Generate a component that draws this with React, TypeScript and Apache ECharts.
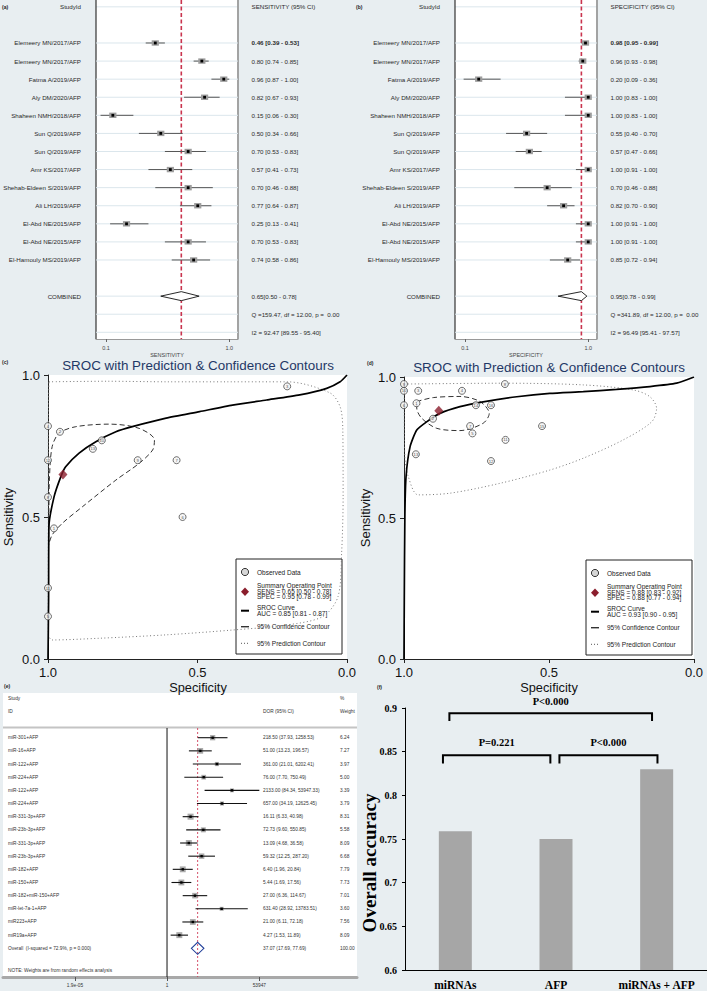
import React, { useEffect, useRef } from 'react';
import * as echarts from 'echarts';

const FONT = '"Liberation Sans", Arial, Helvetica, sans-serif';
const SERIF = '"Liberation Serif", "Times New Roman", serif';
const BG = '#e8eef1';

// ---------- (a) / (b) forest plots ----------
const studyIds = [
  'Elemeery MN/2017/AFP', 'Elemeery MN/2017/AFP', 'Fatma A/2019/AFP', 'Aly DM/2020/AFP',
  'Shaheen NMH/2018/AFP', 'Sun Q/2019/AFP', 'Sun Q/2019/AFP', 'Amr KS/2017/AFP',
  'Shehab-Eldeen S/2019/AFP', 'Ali LH/2019/AFP', 'El-Abd NE/2015/AFP', 'El-Abd NE/2015/AFP',
  'El-Hamouly MS/2019/AFP',
];
const sensEst = [0.46, 0.80, 0.96, 0.82, 0.15, 0.50, 0.70, 0.57, 0.70, 0.77, 0.25, 0.70, 0.74];
const sensLo = [0.39, 0.74, 0.87, 0.67, 0.06, 0.34, 0.53, 0.41, 0.46, 0.64, 0.13, 0.53, 0.58];
const sensHi = [0.53, 0.85, 1.00, 0.93, 0.30, 0.66, 0.83, 0.73, 0.88, 0.87, 0.41, 0.83, 0.86];
const specEst = [0.98, 0.96, 0.20, 1.00, 1.00, 0.55, 0.57, 1.00, 0.70, 0.82, 1.00, 1.00, 0.85];
const specLo = [0.95, 0.93, 0.09, 0.83, 0.83, 0.40, 0.47, 0.91, 0.46, 0.70, 0.91, 0.91, 0.72];
const specHi = [0.99, 0.98, 0.36, 1.00, 1.00, 0.70, 0.66, 1.00, 0.88, 0.90, 1.00, 1.00, 0.94];
const sensPooled = [0.65, 0.50, 0.78];
const specPooled = [0.95, 0.78, 0.99];
const sensStats = ['Q =159.47, df = 12.00, p =  0.00', 'I2 = 92.47 [89.55 - 95.40]'];
const specStats = ['Q =341.89, df = 12.00, p =  0.00', 'I2 = 96.49 [95.41 - 97.57]'];
const forestTicks = [0.1, 1.0];

// ---------- (c) SROC, AFP ----------
const cObsLabels = [1, 2, 3, 4, 5, 6, 7, 8, 9, 10, 11, 12, 13];
const cSummary = [0.95, 0.65];
const cCurve = [[1, 0], [0.998, 0.208], [0.997, 0.465], [0.98, 0.57], [0.957, 0.642], [0.941, 0.677], [0.896, 0.725], [0.84, 0.765], [0.773, 0.8], [0.718, 0.818], [0.605, 0.848], [0.493, 0.871], [0.383, 0.894], [0.269, 0.912], [0.158, 0.93], [0.068, 0.953], [0.023, 0.976], [0, 1]];
const cConf = [[0.998, 0.401], [0.997, 0.525], [0.995, 0.642], [0.986, 0.748], [0.963, 0.795], [0.907, 0.818], [0.795, 0.827], [0.695, 0.812], [0.644, 0.771], [0.65, 0.736], [0.695, 0.689], [0.773, 0.63], [0.885, 0.536], [0.952, 0.478], [0.986, 0.437], [0.998, 0.401]];
const cPred = [[0.997, 0.976], [0.8, 0.978], [0.6, 0.976], [0.4, 0.976], [0.2, 0.976], [0.057, 0.937], [0.023, 0.888], [0.014, 0.806], [0.013, 0.57], [0.018, 0.373], [0.03, 0.22], [0.08, 0.15], [0.2, 0.12], [0.383, 0.102], [0.605, 0.085], [0.829, 0.073], [0.986, 0.067], [0.999, 0.09], [0.999, 0.4], [0.999, 0.8], [0.997, 0.976]];
const cLegend = ['SENS = 0.65 [0.50 - 0.78]', 'SPEC = 0.95 [0.78 - 0.99]', 'AUC = 0.85 [0.81 - 0.87]'];

// ---------- (d) SROC, miRNAs + AFP ----------
const dObsLabels = [1, 2, 3, 4, 5, 6, 7, 8, 9, 10, 11, 12, 13, 14, 15, 16];
const dObsSpec = [0.957, 0.90, 0.951, 0.80, 0.764, 1.0, 0.772, 0.652, 1.0, 1.0, 0.65, 0.70, 0.959, 0.752, 0.524, 0.70];
const dObsSens = [0.907, 0.852, 0.951, 0.951, 0.80, 0.90, 0.826, 0.975, 0.975, 0.951, 0.777, 0.702, 0.726, 0.90, 0.826, 0.90];
const dSummary = [0.88, 0.88];
const dCurve = [[1, 0], [0.999, 0.209], [0.997, 0.505], [0.993, 0.646], [0.979, 0.753], [0.956, 0.812], [0.922, 0.841], [0.876, 0.871], [0.807, 0.895], [0.727, 0.912], [0.611, 0.93], [0.497, 0.942], [0.382, 0.948], [0.267, 0.956], [0.152, 0.966], [0.06, 0.978], [0, 1]];
const dConf = [[0.956, 0.913], [0.899, 0.927], [0.807, 0.931], [0.738, 0.913], [0.706, 0.871], [0.727, 0.836], [0.807, 0.81], [0.887, 0.818], [0.939, 0.854], [0.956, 0.89], [0.956, 0.913]];
const dPred = [[0.999, 0.975], [0.652, 0.978], [0.382, 0.972], [0.209, 0.954], [0.152, 0.93], [0.129, 0.889], [0.146, 0.841], [0.244, 0.777], [0.382, 0.712], [0.497, 0.67], [0.669, 0.623], [0.841, 0.588], [0.951, 0.582], [0.985, 0.646], [0.997, 0.717], [0.999, 0.871], [0.999, 0.975]];
const dLegend = ['SENS = 0.88 [0.83 - 0.92]', 'SPEC = 0.88 [0.77 - 0.94]', 'AUC = 0.93 [0.90 - 0.95]'];

// ---------- (e) DOR forest ----------
const dorNames = ['miR-301+AFP', 'miR-16+AFP', 'miR-122+AFP', 'miR-224+AFP', 'miR-122+AFP', 'miR-224+AFP', 'miR-331-3p+AFP', 'miR-23b-3p+AFP', 'miR-331-3p+AFP', 'miR-23b-3p+AFP', 'miR-182+AFP', 'miR-150+AFP', 'miR-182+miR-150+AFP', 'miR-let-7a-1+AFP', 'miR223+AFP', 'miR19a+AFP'];
const dorEst = [218.50, 51.00, 361.00, 76.00, 2133.00, 657.00, 16.11, 72.73, 13.09, 59.32, 6.40, 5.44, 27.00, 631.40, 21.00, 4.27];
const dorLo = [37.93, 13.23, 21.01, 7.70, 84.34, 34.19, 6.33, 9.60, 4.68, 12.25, 1.96, 1.69, 6.36, 28.92, 6.11, 1.53];
const dorHi = [1258.53, 196.57, 6202.41, 750.49, 53947.33, 12625.45, 40.98, 550.85, 36.58, 287.20, 20.84, 17.56, 114.67, 13783.51, 72.18, 11.89];
const dorWeight = [6.24, 7.27, 3.97, 5.00, 3.39, 3.79, 8.31, 5.58, 8.09, 6.68, 7.79, 7.73, 7.01, 3.60, 7.56, 8.09];
const dorOverall = [37.07, 17.69, 77.69];
const dorOverallLabel = 'Overall  (I-squared = 72.9%, p = 0.000)';
const dorTicks = [1.9e-5, 1, 53947];
const dorTickLabels = ['1.9e-05', '1', '53947'];

// ---------- (f) accuracy bars ----------
const accCategories = ['miRNAs', 'AFP', 'miRNAs + AFP'];
const accValues = [0.759, 0.75, 0.83];
const bracketX1 = [-0.059, -0.123, 1.034];
const bracketX2 = [1.954, 0.944, 2.008];
const bracketTop = [0.894, 0.846, 0.846];
const bracketBottom = [0.885, 0.8365, 0.8365];
const bracketLabelY = [0.907, 0.8605, 0.8605];
const bracketLabels = ['P<0.000', 'P=0.221', 'P<0.000'];

const f2 = (v: number) => v.toFixed(2);

function txt(x: number, y: number, text: string, align: string, size = 6.2, bold = false, fill = '#2a2a2a', family = FONT): any {
  return {
    type: 'text', x, y,
    style: { text, align, verticalAlign: 'middle', fontSize: size, fontFamily: family, fontWeight: bold ? 'bold' : 'normal', fill },
  };
}

function abSeries(ax: number, est: number[], lo: number[], hi: number[], pooled: number[], stats: string[], headerRight: string): any[] {
  const rows = [-2, ...est.map((_, i) => i), 14, 15, 16];
  const nameOff = 15;
  const ciOff = 13.5;
  const annotation = {
    type: 'custom', xAxisIndex: ax, yAxisIndex: ax, z: 1, silent: true,
    data: rows.map((r) => [0.5, r]),
    renderItem: (params: any, api: any) => {
      const cs = params.coordSys;
      const r = api.value(1);
      const y = api.coord([0.5, r])[1];
      const ch: any[] = [{ type: 'line', shape: { x1: cs.x, y1: y, x2: cs.x + cs.width, y2: y }, style: { stroke: '#dbe6ec', lineWidth: 1 } }];
      if (r === -2) {
        ch.push(txt(cs.x - nameOff, y, 'StudyId', 'right'));
        ch.push(txt(cs.x + cs.width + ciOff, y, headerRight, 'left'));
        ch.push({ type: 'line', shape: { x1: cs.x, y1: cs.y, x2: cs.x, y2: cs.y + cs.height }, style: { stroke: '#333', lineWidth: 1.2 } });
        ch.push({ type: 'line', shape: { x1: cs.x + cs.width, y1: cs.y, x2: cs.x + cs.width, y2: cs.y + cs.height }, style: { stroke: '#9a9a9a', lineWidth: 1.8 } });
      }
      if (r === 15) ch.push(txt(cs.x + cs.width + ciOff, y, stats[0], 'left'));
      if (r === 16) ch.push(txt(cs.x + cs.width + ciOff, y, stats[1], 'left'));
      return { type: 'group', children: ch };
    },
  };
  const pooledSeries = {
    type: 'custom', xAxisIndex: ax, yAxisIndex: ax, z: 3, silent: true,
    data: [[pooled[0], pooled[1], pooled[2], 14]],
    renderItem: (params: any, api: any) => {
      const cs = params.coordSys;
      const row = api.value(3);
      const pe = api.coord([api.value(0), row]);
      const pl = api.coord([api.value(1), row]);
      const ph = api.coord([api.value(2), row]);
      const y = pe[1];
      return {
        type: 'group', children: [
          { type: 'line', shape: { x1: pe[0], y1: cs.y, x2: pe[0], y2: cs.y + cs.height }, style: { stroke: '#c9344e', lineWidth: 1.6, lineDash: [4, 2.5] } },
          { type: 'polygon', shape: { points: [[pl[0], y], [pe[0], y - 4.5], [ph[0], y], [pe[0], y + 4.5]] }, style: { fill: '#fff', stroke: '#111', lineWidth: 0.9 } },
          txt(cs.x - nameOff, y, 'COMBINED', 'right'),
          txt(cs.x + cs.width + ciOff, y, `${f2(pooled[0])}[${f2(pooled[1])} - ${f2(pooled[2])}]`, 'left'),
        ],
      };
    },
  };
  const studies = {
    type: 'custom', xAxisIndex: ax, yAxisIndex: ax, z: 4, silent: true,
    data: est.map((v, i) => [v, lo[i], hi[i], i]),
    renderItem: (params: any, api: any) => {
      const cs = params.coordSys;
      const i = params.dataIndex;
      const row = api.value(3);
      const pe = api.coord([api.value(0), row]);
      const pl = api.coord([api.value(1), row]);
      const ph = api.coord([api.value(2), row]);
      const y = pe[1];
      return {
        type: 'group', children: [
          { type: 'line', shape: { x1: pl[0], y1: y, x2: ph[0], y2: y }, style: { stroke: '#555', lineWidth: 1 } },
          { type: 'rect', shape: { x: pe[0] - 3.6, y: y - 2.7, width: 7.2, height: 5.4 }, style: { fill: '#9d9d9d' } },
          { type: 'rect', shape: { x: pe[0] - 1.4, y: y - 1.4, width: 2.8, height: 2.8 }, style: { fill: '#000' } },
          txt(cs.x - nameOff, y, studyIds[i], 'right'),
          txt(cs.x + cs.width + ciOff, y, `${f2(est[i])} [${f2(lo[i])} - ${f2(hi[i])}]`, 'left', 6.2, i === 0),
        ],
      };
    },
  };
  return [annotation, pooledSeries, studies];
}

function srocSeries(ax: number, curve: number[][], conf: number[][], pred: number[][], obs: any[], summary: number[]): any[] {
  return [
    { type: 'line', xAxisIndex: ax, yAxisIndex: ax, data: pred, showSymbol: false, smooth: 0.3, silent: true, z: 2, lineStyle: { color: '#777', width: 1, type: [1, 2.5] } },
    { type: 'line', xAxisIndex: ax, yAxisIndex: ax, data: conf, showSymbol: false, smooth: 0.3, silent: true, z: 3, lineStyle: { color: '#333', width: 1, type: [5, 3] } },
    { type: 'line', xAxisIndex: ax, yAxisIndex: ax, data: curve, showSymbol: false, smooth: 0.2, silent: true, z: 4, lineStyle: { color: '#000', width: 1.7 } },
    {
      type: 'scatter', xAxisIndex: ax, yAxisIndex: ax, data: obs, symbol: 'circle', symbolSize: 7, silent: true, z: 5,
      itemStyle: { color: '#f3f3f3', borderColor: '#222', borderWidth: 0.8 },
      label: { show: true, position: 'inside', formatter: (p: any) => String(p.value[2]), fontSize: 4.2, color: '#222', fontFamily: FONT },
    },
    { type: 'scatter', xAxisIndex: ax, yAxisIndex: ax, data: [summary], symbol: 'diamond', symbolSize: [9, 10], silent: true, z: 6, itemStyle: { color: '#8b1e2d' } },
  ];
}

function srocLegend(bx: number, by: number, lines: string[]): any[] {
  const t = (x: number, y: number, s: string) => txt(x, y, s, 'left', 6.5, false, '#222');
  const tx = bx + 21;
  return [
    { type: 'rect', shape: { x: bx, y: by, width: 106, height: 95 }, style: { fill: '#fff', stroke: '#222', lineWidth: 1 } },
    { type: 'circle', shape: { cx: bx + 9, cy: by + 13, r: 3.6 }, style: { fill: '#d6d6d6', stroke: '#222', lineWidth: 0.9 } },
    t(tx, by + 13, 'Observed Data'),
    { type: 'polygon', shape: { points: [[bx + 9, by + 28.5], [bx + 13, by + 32.7], [bx + 9, by + 36.9], [bx + 5, by + 32.7]] }, style: { fill: '#8b1e2d' } },
    t(tx, by + 26.5, 'Summary Operating Point'),
    t(tx, by + 32, lines[0]),
    t(tx, by + 37.6, lines[1]),
    { type: 'line', shape: { x1: bx + 5, y1: by + 51.7, x2: bx + 13, y2: by + 51.7 }, style: { stroke: '#000', lineWidth: 2 } },
    t(tx, by + 48.7, 'SROC Curve'),
    t(tx, by + 54.8, lines[2]),
    { type: 'line', shape: { x1: bx + 5, y1: by + 67.7, x2: bx + 13, y2: by + 67.7 }, style: { stroke: '#333', lineWidth: 1.4 } },
    t(tx, by + 67.7, '95% Confidence Contour'),
    { type: 'line', shape: { x1: bx + 5, y1: by + 84.3, x2: bx + 13, y2: by + 84.3 }, style: { stroke: '#555', lineWidth: 1, lineDash: [1, 2] } },
    t(tx, by + 84.3, '95% Prediction Contour'),
  ];
}

function buildOption(): any {
  const log = Math.log10;
  const forestX = (gi: number, name: string) => ({
    type: 'value', gridIndex: gi, min: 0.027, max: 1.064,
    axisLine: { show: true, onZero: false, lineStyle: { color: '#999', width: 1.2 } },
    axisTick: { show: true, customValues: forestTicks, length: 3, lineStyle: { color: '#666' } },
    axisLabel: { customValues: forestTicks, formatter: (v: number) => v.toFixed(1), fontSize: 5.5, color: '#444', margin: 6, fontFamily: FONT },
    splitLine: { show: false },
    name, nameLocation: 'middle', nameGap: 11, nameTextStyle: { fontSize: 5.5, color: '#444', fontFamily: FONT },
  });
  const forestY = (gi: number) => ({ type: 'value', gridIndex: gi, inverse: true, min: -2.378, max: 16.37, show: false, axisLine: { onZero: false } });
  const srocX = (gi: number) => ({
    type: 'value', gridIndex: gi, min: 0, max: 1, interval: 0.5, inverse: true,
    axisLine: { show: true, onZero: false, lineStyle: { color: '#222', width: 1 } },
    axisTick: { show: true, length: 4, lineStyle: { color: '#222' } },
    axisLabel: { formatter: (v: number) => v.toFixed(1), fontSize: 13, color: '#111', margin: 6.5, fontFamily: FONT },
    splitLine: { show: false },
  });
  const srocY = (gi: number) => ({
    type: 'value', gridIndex: gi, min: 0, max: 1, interval: 0.5,
    axisLine: { show: true, onZero: false, lineStyle: { color: '#222', width: 1 } },
    axisTick: { show: true, length: 4, lineStyle: { color: '#222' } },
    axisLabel: { formatter: (v: number) => v.toFixed(1), fontSize: 13, color: '#111', margin: 8, fontFamily: FONT },
    splitLine: { show: false },
  });

  const cObs = sensEst.map((s, i) => [specEst[i], s, cObsLabels[i]]);
  const dObs = dObsSpec.map((s, i) => [s, dObsSens[i], dObsLabels[i]]);

  const eSeries: any[] = [
    {
      type: 'custom', xAxisIndex: 4, yAxisIndex: 4, z: 2, silent: true,
      data: [[log(dorOverall[0]), log(dorOverall[1]), log(dorOverall[2]), 16]],
      renderItem: (params: any, api: any) => {
        const cs = params.coordSys;
        const row = api.value(3);
        const pe = api.coord([api.value(0), row]);
        const pl = api.coord([api.value(1), row]);
        const ph = api.coord([api.value(2), row]);
        const p0 = api.coord([0, row]);
        const y = pe[1];
        const noteY = api.coord([0, 17.65])[1];
        return {
          type: 'group', children: [
            { type: 'line', shape: { x1: p0[0], y1: cs.y, x2: p0[0], y2: cs.y + cs.height }, style: { stroke: '#111', lineWidth: 1 } },
            { type: 'line', shape: { x1: pe[0], y1: cs.y, x2: pe[0], y2: cs.y + cs.height }, style: { stroke: '#d0405a', lineWidth: 0.9, lineDash: [2, 2] } },
            { type: 'polygon', shape: { points: [[pl[0], y], [pe[0], y - 6], [ph[0], y], [pe[0], y + 6]] }, style: { fill: 'rgba(255,255,255,0)', stroke: '#22409a', lineWidth: 1.1 } },
            txt(cs.x + 5, y, dorOverallLabel, 'left', 4.8, false, '#333'),
            txt(cs.x + 260, y, `${f2(dorOverall[0])} (${f2(dorOverall[1])}, ${f2(dorOverall[2])})`, 'left', 4.8, false, '#333'),
            txt(cs.x + 337, y, '100.00', 'left', 4.8, false, '#333'),
            txt(cs.x + 5, noteY, 'NOTE: Weights are from random effects analysis', 'left', 4.8, false, '#333'),
          ],
        };
      },
    },
    {
      type: 'custom', xAxisIndex: 4, yAxisIndex: 4, z: 4, silent: true,
      data: dorEst.map((v, i) => [log(v), log(dorLo[i]), log(dorHi[i]), i, dorWeight[i]]),
      renderItem: (params: any, api: any) => {
        const cs = params.coordSys;
        const i = params.dataIndex;
        const row = api.value(3);
        const pe = api.coord([api.value(0), row]);
        const pl = api.coord([api.value(1), row]);
        const ph = api.coord([api.value(2), row]);
        const s = 2.1 * Math.sqrt(api.value(4));
        const y = pe[1];
        return {
          type: 'group', children: [
            { type: 'rect', shape: { x: pe[0] - s / 2, y: y - s / 2, width: s, height: s }, style: { fill: '#ababab' } },
            { type: 'line', shape: { x1: pl[0], y1: y, x2: ph[0], y2: y }, style: { stroke: '#111', lineWidth: 1.1 } },
            { type: 'rect', shape: { x: pe[0] - 1.2, y: y - 1.2, width: 2.4, height: 2.4 }, style: { fill: '#000' } },
            txt(cs.x + 5, y, dorNames[i], 'left', 4.8, false, '#333'),
            txt(cs.x + 260, y, `${f2(dorEst[i])} (${f2(dorLo[i])}, ${f2(dorHi[i])})`, 'left', 4.8, false, '#333'),
            txt(cs.x + 337, y, f2(dorWeight[i]), 'left', 4.8, false, '#333'),
          ],
        };
      },
    },
  ];

  const fSeries: any[] = [
    { type: 'bar', xAxisIndex: 5, yAxisIndex: 5, data: accValues, barWidth: 33, silent: true, itemStyle: { color: '#a6a6a6' } },
    {
      type: 'custom', xAxisIndex: 6, yAxisIndex: 5, z: 5, silent: true,
      data: bracketX1.map((x, i) => [x, bracketX2[i], bracketTop[i], bracketBottom[i], bracketLabelY[i]]),
      renderItem: (params: any, api: any) => {
        const i = params.dataIndex;
        const x1 = api.value(0), x2 = api.value(1), top = api.value(2), bot = api.value(3), ly = api.value(4);
        const a = api.coord([x1, bot]), b = api.coord([x1, top]), c = api.coord([x2, top]), d = api.coord([x2, bot]);
        const lp = api.coord([(x1 + x2) / 2, ly]);
        return {
          type: 'group', children: [
            { type: 'polyline', shape: { points: [a, b, c, d] }, style: { stroke: '#000', lineWidth: 2, fill: 'none' } },
            txt(lp[0], lp[1], bracketLabels[i], 'center', 10.5, true, '#000', SERIF),
          ],
        };
      },
    },
  ];

  const graphic: any[] = [
    { type: 'rect', shape: { x: 3, y: 693, width: 354, height: 284 }, style: { fill: '#fff' }, z: -1 },
    { type: 'line', shape: { x1: 3, y1: 727.5, x2: 357, y2: 727.5 }, style: { stroke: '#c4c4c4', lineWidth: 2 } },
    txt(2, 7, '(a)', 'left', 5, true, '#222'),
    txt(356, 7, '(b)', 'left', 5, true, '#222'),
    txt(2, 362, '(c)', 'left', 5, true, '#222'),
    txt(367, 363, '(d)', 'left', 5, true, '#222'),
    txt(4, 686, '(e)', 'left', 5, true, '#222'),
    txt(377, 687, '(f)', 'left', 5, true, '#222'),
    txt(198, 365, 'SROC with Prediction & Confidence Contours', 'center', 13.4, false, '#1f3866'),
    txt(549, 367.5, 'SROC with Prediction & Confidence Contours', 'center', 13.4, false, '#1f3866'),
    txt(198, 687.5, 'Specificity', 'center', 12.8, false, '#111'),
    txt(549, 687.5, 'Specificity', 'center', 12.8, false, '#111'),
    { ...txt(8.5, 517, 'Sensitivity', 'center', 13, false, '#111'), rotation: Math.PI / 2 },
    { ...txt(365, 518, 'Sensitivity', 'center', 13, false, '#111'), rotation: Math.PI / 2 },
    ...srocLegend(236, 559, cLegend),
    ...srocLegend(586, 560, dLegend),
    txt(8, 698, 'Study', 'left', 4.8, false, '#333'),
    txt(8, 711, 'ID', 'left', 4.8, false, '#333'),
    txt(263, 711, 'DOR (95% CI)', 'left', 4.8, false, '#333'),
    txt(340, 698, '%', 'left', 4.8, false, '#333'),
    txt(340, 711, 'Weight', 'left', 4.8, false, '#333'),
    { ...txt(369, 863, 'Overall accuracy', 'center', 19, true, '#000', SERIF), rotation: Math.PI / 2 },
  ];

  return {
    animation: false,
    backgroundColor: BG,
    grid: [
      { left: 96, top: 0, width: 142, height: 339, show: true, backgroundColor: '#fff', borderWidth: 0 },
      { left: 455, top: 0, width: 142, height: 339, show: true, backgroundColor: '#fff', borderWidth: 0 },
      { left: 48, top: 375, width: 299, height: 284, show: true, backgroundColor: '#fff', borderWidth: 0 },
      { left: 404, top: 377, width: 290, height: 282, show: true, backgroundColor: '#fff', borderWidth: 0 },
      { left: 3, top: 728, width: 354, height: 249, show: false },
      { left: 405, top: 708, width: 313, height: 262, show: false },
    ],
    xAxis: [
      forestX(0, 'SENSITIVITY'),
      forestX(1, 'SPECIFICITY'),
      srocX(2),
      srocX(3),
      {
        type: 'value', gridIndex: 4, min: -8.41, max: 9.74,
        axisLine: { show: true, onZero: false, lineStyle: { color: '#a8a8a8', width: 3 } },
        axisTick: { show: true, customValues: dorTicks.map(log), length: 4, lineStyle: { color: '#555' } },
        axisLabel: {
          customValues: dorTicks.map(log), fontSize: 4.8, color: '#333', margin: 6, fontFamily: FONT,
          formatter: (v: number) => {
            let best = 0;
            dorTicks.forEach((t, i) => { if (Math.abs(log(t) - v) < Math.abs(log(dorTicks[best]) - v)) best = i; });
            return dorTickLabels[best];
          },
        },
        splitLine: { show: false },
      },
      {
        type: 'category', gridIndex: 5, data: accCategories,
        axisLine: { show: true, onZero: false, lineStyle: { color: '#000', width: 1 } },
        axisTick: { show: false },
        axisLabel: { fontSize: 11.5, fontWeight: 'bold', fontFamily: SERIF, color: '#000', margin: 9 },
      },
      { type: 'value', gridIndex: 5, min: -0.5, max: 2.5, show: false, axisLine: { onZero: false } },
    ],
    yAxis: [
      forestY(0),
      forestY(1),
      srocY(2),
      srocY(3),
      { type: 'value', gridIndex: 4, inverse: true, min: -0.737, max: 18.18, show: false, axisLine: { onZero: false } },
      {
        type: 'value', gridIndex: 5, min: 0.6, max: 0.9, interval: 0.05,
        axisLine: { show: true, onZero: false, lineStyle: { color: '#000', width: 1 } },
        axisTick: { show: true, length: 3, lineStyle: { color: '#000' } },
        axisLabel: { fontSize: 10, fontWeight: 'bold', fontFamily: SERIF, color: '#000', margin: 8 },
        splitLine: { show: false },
      },
    ],
    graphic,
    series: [
      ...abSeries(0, sensEst, sensLo, sensHi, sensPooled, sensStats, 'SENSITIVITY (95% CI)'),
      ...abSeries(1, specEst, specLo, specHi, specPooled, specStats, 'SPECIFICITY (95% CI)'),
      ...srocSeries(2, cCurve, cConf, cPred, cObs, cSummary),
      ...srocSeries(3, dCurve, dConf, dPred, dObs, dSummary),
      ...eSeries,
      ...fSeries,
    ],
  };
}

export default function App() {
  const ref = useRef<HTMLDivElement>(null);
  useEffect(() => {
    const chart = echarts.init(ref.current as HTMLDivElement, undefined, { renderer: 'svg' });
    chart.setOption(buildOption());
    return () => chart.dispose();
  }, []);
  return <div ref={ref} style={{ position: 'absolute', left: 0, top: 0, width: 707, height: 991, background: BG }} />;
}
